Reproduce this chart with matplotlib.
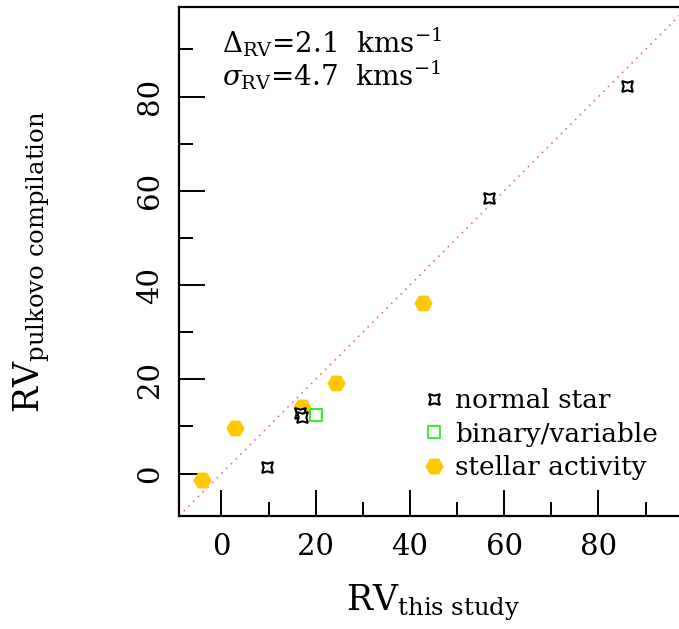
import numpy as np
import matplotlib
matplotlib.use("Agg")
import matplotlib.pyplot as plt
from matplotlib.ticker import MultipleLocator

plt.rcParams['font.family'] = 'DejaVu Serif'
plt.rcParams['mathtext.fontset'] = 'dejavuserif'

# RV values (km/s): this study vs pulkovo compilation
normal_x = [86.0, 56.7, 9.6, 16.6, 17.1]
normal_y = [82.2, 58.4, 1.3, 12.8, 11.9]

binary_x = [20.0]
binary_y = [12.5]

active_x = [-4.2, 2.8, 17.2, 24.4, 42.7]
active_y = [-1.3, 9.6, 14.2, 19.3, 36.3]

lims = [-9, 99]

fig = plt.figure(figsize=(6.79, 6.29), dpi=100)
ax = fig.add_axes([179/679, 1 - 516/629, 509/679, 509/629])

# one-to-one line
ax.plot(lims, lims, color='#f06a9a', ls=(0, (1, 3)), lw=1.2, zorder=1)

ax.plot(normal_x, normal_y, ls='none', marker=(4, 1, 45), ms=11, mfc='white',
        mec='black', mew=1.5, label='normal star', zorder=3)
ax.plot(binary_x, binary_y, ls='none', marker='s', ms=8, mfc='none',
        mec='#22ee22', mew=1.3, label='binary/variable', zorder=3)
ax.plot(active_x, active_y, ls='none', marker='H', ms=12, mfc='#ffc800',
        mec='#ffc800', label='stellar activity', zorder=2)

ax.set_xlim(lims)
ax.set_ylim(lims)
ax.xaxis.set_major_locator(MultipleLocator(20))
ax.xaxis.set_minor_locator(MultipleLocator(10))
ax.yaxis.set_major_locator(MultipleLocator(20))
ax.yaxis.set_minor_locator(MultipleLocator(10))
ax.tick_params(which='both', direction='in', top=False, right=False, width=1.4,
               labelsize=21)
ax.tick_params(axis='x', which='both', pad=12)
ax.tick_params(axis='y', which='both', pad=11)
ax.tick_params(which='major', length=19)
ax.tick_params(which='minor', length=10)
plt.setp(ax.get_yticklabels(), rotation=90, va='center')
for s in ax.spines.values():
    s.set_linewidth(1.6)

ax.set_xlabel(r'RV$_{\mathrm{this\ study}}$', fontsize=25, labelpad=16)
ax.set_ylabel(r'RV$_{\mathrm{pulkovo\ compilation}}$', fontsize=25)
ax.yaxis.set_label_coords(-0.25, 0.5)

ax.text(0.085, 0.931, r'$\Delta_{\mathrm{RV}}$=2.1  kms$^{-1}$', transform=ax.transAxes,
        fontsize=20, va='center')
ax.text(0.085, 0.866, r'$\sigma_{\mathrm{RV}}$=4.7  kms$^{-1}$', transform=ax.transAxes,
        fontsize=20, va='center')

ax.legend(loc='lower left', bbox_to_anchor=(0.455, 0.05), frameon=False,
          fontsize=19, handletextpad=0.3, labelspacing=0.32, handlelength=1.0,
          borderaxespad=0)

fig.savefig('out.png', dpi=100)
